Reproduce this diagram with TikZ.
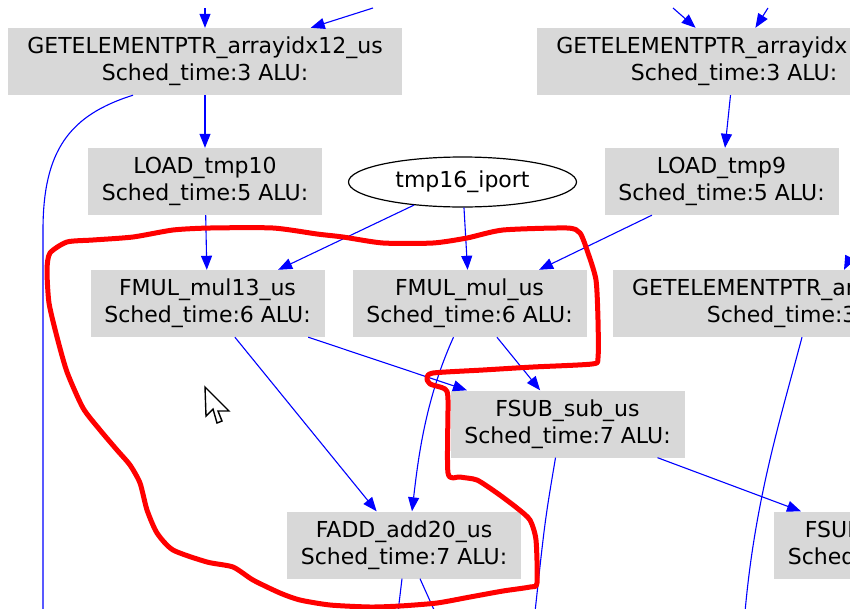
\documentclass[tikz,border=0pt]{standalone}
\usepackage{fontspec}
\setmainfont{DejaVu Sans}
\usetikzlibrary{arrows.meta,shapes.geometric}
\definecolor{opgray}{RGB}{216,216,216}

\begin{document}
\begin{tikzpicture}[x=1pt, y=-1pt,
  op/.style={fill=opgray, minimum width=234pt, minimum height=67pt, inner sep=0pt,
    align=center, font=\fontsize{22}{27}\selectfont},
  wideop/.style={op, minimum width=394pt},
  port/.style={ellipse, draw=black, line width=1.2pt, fill=white, minimum width=228pt,
    minimum height=50pt, inner sep=0pt, font=\fontsize{22}{27}\selectfont},
  wire/.style={draw=blue, line width=1.1pt},
  flow/.style={wire, -{Triangle[length=14pt, width=11pt]}},
  lasso/.style={draw=red, line width=5pt, line join=round}]

% visible window of the graph
\clip (0,0) rectangle (850,608);
\fill[white] (0,0) rectangle (850,608);

% instruction nodes
\node[wideop] (gep12) at (205,61.5) {GETELEMENTPTR\_arrayidx12\_us\\Sched\_time:3 ALU:};
\node[wideop] (gepR) at (734,61.5) {GETELEMENTPTR\_arrayidx\phantom{12\_us}\\Sched\_time:3 ALU:};
\node[op] (ld10) at (205,181.5) {LOAD\_tmp10\\Sched\_time:5 ALU:};
\node[port] (tmp16) at (462.5,182) {tmp16\_iport};
\node[op] (ld9) at (721.5,181.5) {LOAD\_tmp9\\Sched\_time:5 ALU:};
\node[op] (mul13) at (207.5,303.5) {FMUL\_mul13\_us\\Sched\_time:6 ALU:};
\node[op] (mul) at (469.5,303.5) {FMUL\_mul\_us\\Sched\_time:6 ALU:};
\node[wideop] (gepL) at (810,303.5) {GETELEMENTPTR\_ar\phantom{rayidx12\_us}\\Sched\_time:3\phantom{~ALU:}};
\node[op] (sub) at (567.5,424) {FSUB\_sub\_us\\Sched\_time:7 ALU:};
\node[op] (add20) at (404,545) {FADD\_add20\_us\\Sched\_time:7 ALU:};
\node[op] (subR) at (891,545) {FSUB\phantom{\_sub19\_us}\\Sched\phantom{\_time:7 ALU:}};

% loose ends of edges leaving the window
\coordinate (in12a) at (205,8);
\coordinate (in12b) at (373,8);
\coordinate (inRa) at (673,8);
\coordinate (inRb) at (768,8);
\coordinate (inL) at (854,250);
\coordinate (out12) at (43,612);
\coordinate (outL) at (745,612);
\coordinate (outsub) at (535,612);
\coordinate (outadd1) at (398,612);
\coordinate (outadd2) at (435,612);

% dependence edges
\draw[flow] (in12a) -- (gep12);
\draw[flow] (in12b) -- (gep12);
\draw[flow] (inRa) -- (gepR);
\draw[flow] (inRb) -- (gepR);
\draw[flow] (gep12) -- (ld10);
\draw[flow] (gepR) -- (ld9);
\draw[flow] (ld10) -- (mul13);
\draw[flow] (tmp16) -- (mul13);
\draw[flow] (tmp16) -- (mul);
\draw[flow] (ld9) -- (mul);
\draw[flow] (inL) -- ([xshift=34]gepL.north);
\draw[flow] (mul13) -- (sub);
\draw[flow] (mul13) -- (add20);
\draw[flow] (mul) -- (sub);
\draw[flow] ([xshift=-16]mul.south) .. controls (425,400) and (418,460) .. ([xshift=8]add20.north);
\draw[flow] (sub) -- (subR);
\draw[wire] ([xshift=-72]gep12.south) .. controls (70,115) and (43,150) .. (43,230) -- (out12);
\draw[wire] ([xshift=-8]gepL.south) .. controls (780,420) and (755,500) .. (outL);
\draw[wire] ([xshift=-12]sub.south) .. controls (545,520) .. (outsub);
\draw[wire] ([xshift=-2]add20.south) -- (outadd1);
\draw[wire] ([xshift=16]add20.south) -- (outadd2);

% freehand selection
\draw[lasso] plot[smooth cycle, tension=0.4] coordinates {
  (67,242) (93,240) (133,237) (173,230) (210,228) (273,228) (317,234) (343,237)
  (383,243) (433,243) (467,238) (503,230) (567,228) (580,233) (588,253) (596,280)
  (598,320) (598,358) (592,364) (533,367) (483,370) (433,373) (427,378) (430,384)
  (445,389) (448,400) (448,473) (460,477) (477,480) (497,493) (517,508) (530,520)
  (536,540) (537,583) (530,587) (503,591) (470,597) (437,603) (400,606) (370,607)
  (330,605) (300,600) (280,593) (253,580) (233,567) (207,562) (173,550) (157,533)
  (147,510) (140,483) (130,465) (117,450) (100,430) (83,408) (67,372) (57,337)
  (49,303) (47,270) (50,253)};

% mouse pointer
\draw[fill=white, line width=1.4pt, line join=miter] (205,387) -- (206,416) -- (213,409)
  -- (217,423) -- (222,421) -- (218,411) -- (229,411) -- cycle;
\end{tikzpicture}
\end{document}
